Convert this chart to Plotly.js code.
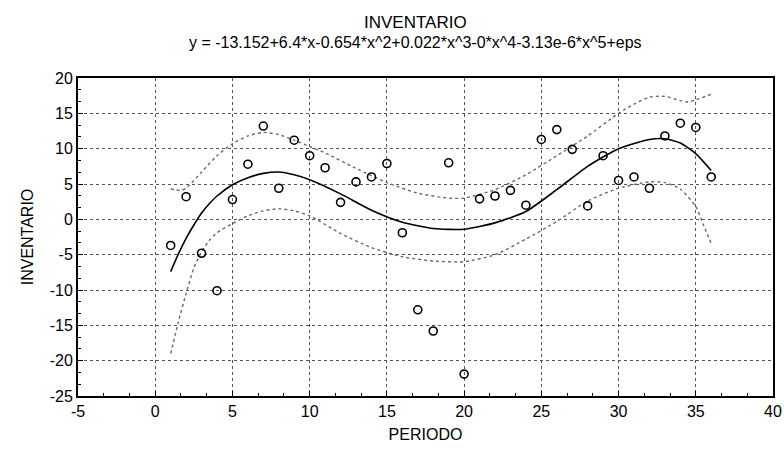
<!DOCTYPE html>
<html>
<head>
<meta charset="utf-8">
<script src="https://cdn.plot.ly/plotly-3.0.1.min.js"></script>
<style>html,body{margin:0;padding:0;background:#fff;}#chart{width:784px;height:453px;}</style>
</head>
<body>
<div id="chart"></div>
<script>
// Observed data
const periodo = [1,2,3,4,5,6,7,8,9,10,11,12,13,14,15,16,17,18,19,20,21,22,23,24,25,26,27,28,29,30,31,32,33,34,35,36];
const inventario = [-3.7,3.2,-4.8,-10.1,2.8,7.8,13.2,4.4,11.2,9.0,7.3,2.4,5.3,6.0,7.9,-1.9,-12.8,-15.8,8.0,-21.9,2.9,3.3,4.1,2.0,11.3,12.7,9.9,1.9,9.0,5.5,6.0,4.4,11.8,13.6,13.0,6.0];

// Fitted curve
const fitX = [1,1.5,2,2.5,3,3.5,4,5,6,7,8,9,10,12,14,16,18,20,22,24,26,28,30,32,33,34,35,36];
const fitY = [-7.4,-4.9,-2.7,-0.8,0.9,2.2,3.3,4.9,5.9,6.5,6.7,6.3,5.6,3.6,1.3,-0.4,-1.3,-1.4,-0.5,1.1,4.2,7.5,10.0,11.3,11.4,10.8,9.3,6.9];

// Upper confidence band
const upX = [1,1.6,2,3,4,5,6,7,8,9,10,11,13,15,17,19,20,22,24,26,28,30,31,32,33,34,34.5,35,36];
const upY = [4.3,4.1,4.4,6.7,9.0,10.7,11.8,12.3,12.0,11.2,10.3,9.4,7.2,5.2,3.7,3.0,3.0,4.2,6.3,9.0,11.8,15.0,16.3,17.3,17.4,16.8,16.6,16.9,17.7];

// Lower confidence band
const loX = [1,1.5,2,2.5,3,3.5,4,5,6,7,8,9,10,12,14,16,18,20,22,24,26,28,30,32,33,34,35,35.5,36];
const loY = [-19.0,-14.5,-10.5,-6.9,-4.6,-3.0,-1.9,-0.6,0.5,1.2,1.5,1.2,0.5,-2.0,-4.0,-5.3,-5.9,-6.0,-5.0,-2.8,-0.3,2.6,4.4,5.3,5.2,4.3,1.8,-0.8,-3.4];

// Tick labels
const xTickVals = [-5,0,5,10,15,20,25,30,35,40];
const xTickText = ["-5","0","5","10","15","20","25","30","35","40"];
const yTickVals = [-25,-20,-15,-10,-5,0,5,10,15,20];
const yTickText = ["-25","-20","-15","-10","-5","0","5","10","15","20"];

const titleMain = "INVENTARIO";
const titleEq = "y = -13.152+6.4*x-0.654*x^2+0.022*x^3-0*x^4-3.13e-6*x^5+eps";
const xTitle = "PERIODO";
const yTitle = "INVENTARIO";

const font = "Liberation Sans, Arial, sans-serif";

const traces = [
  {x: upX, y: upY, mode: 'lines', line: {color: '#6a6a6a', width: 1.4, dash: 'dot', shape: 'spline', smoothing: 0.6}, hoverinfo: 'skip'},
  {x: loX, y: loY, mode: 'lines', line: {color: '#6a6a6a', width: 1.4, dash: 'dot', shape: 'spline', smoothing: 0.6}, hoverinfo: 'skip'},
  {x: fitX, y: fitY, mode: 'lines', line: {color: '#000', width: 1.6, shape: 'spline', smoothing: 0.6}},
  {x: periodo, y: inventario, mode: 'markers', marker: {symbol: 'circle-open', size: 8, color: '#000', line: {width: 1.6, color: '#000'}}}
];

const axisCommon = {
  showline: true, linecolor: '#000', linewidth: 2, mirror: true,
  ticks: 'inside', ticklen: 5, tickcolor: '#000', tickwidth: 1,
  showgrid: true, gridcolor: '#555', griddash: 'dot', gridwidth: 1,
  zeroline: false,
  tickfont: {family: font, size: 16, color: '#000'},
  minor: {dtick: 5/3, tick0: 0, ticks: 'inside', ticklen: 3, tickcolor: '#000', showgrid: false}
};

const layout = {
  width: 784, height: 453,
  margin: {l: 78, r: 11, t: 78, b: 57},
  paper_bgcolor: '#fff', plot_bgcolor: '#fff',
  showlegend: false,
  font: {family: font, color: '#000'},
  xaxis: Object.assign({}, axisCommon, {
    range: [-5, 40], tickmode: 'array', tickvals: xTickVals, ticktext: xTickText,
    title: {text: xTitle, font: {family: font, size: 16, color: '#000'}, standoff: 10}
  }),
  yaxis: Object.assign({}, axisCommon, {
    range: [-25, 20], tickmode: 'array', tickvals: yTickVals, ticktext: yTickText,
    title: {text: yTitle, font: {family: font, size: 16, color: '#000'}, standoff: 12}
  }),
  annotations: [
    {text: titleMain, xref: 'paper', yref: 'paper', x: 0.485, y: 1, yshift: 56, xanchor: 'center', yanchor: 'middle', showarrow: false, font: {family: font, size: 17, color: '#000'}},
    {text: titleEq, xref: 'paper', yref: 'paper', x: 0.485, y: 1, yshift: 36, xanchor: 'center', yanchor: 'middle', showarrow: false, font: {family: font, size: 16, color: '#000'}}
  ]
};

Plotly.newPlot('chart', traces, layout, {staticPlot: true, displayModeBar: false});
</script>
</body>
</html>
